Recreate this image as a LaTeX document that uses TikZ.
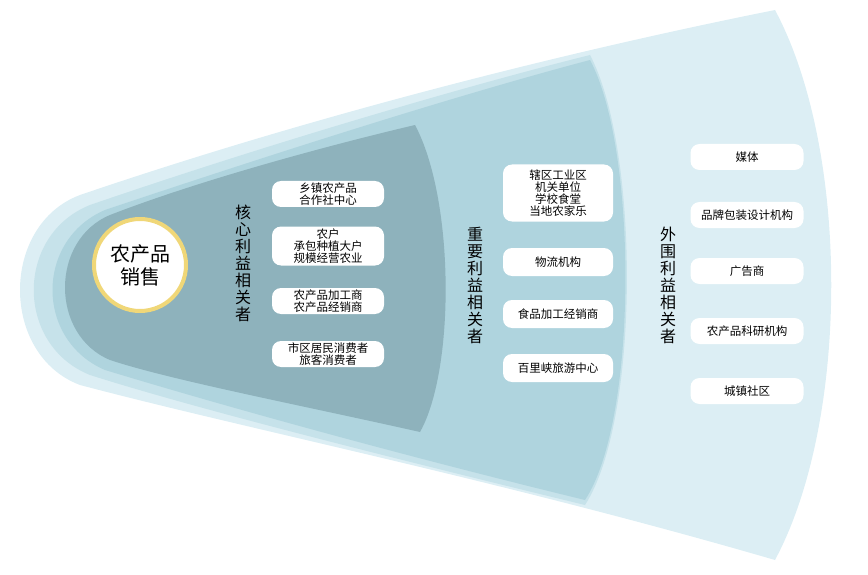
\documentclass[tikz,border=0pt]{standalone}
\usepackage{fontspec}
\setmainfont{Noto Sans CJK SC}
\begin{document}
\begin{tikzpicture}[x=1pt,y=-1pt,
  box/.style={fill=white,rounded corners=9pt,minimum height=26pt,align=center,font=\fontsize{11.5}{12}\selectfont,inner sep=1pt},
  vlab/.style={align=center,font=\fontsize{16}{17}\selectfont}]
\useasboundingbox (0,0) rectangle (868,575);
\definecolor{cout}{HTML}{DCEEF4}
\definecolor{cmid}{HTML}{AFD4DE}
\definecolor{crim}{HTML}{C6E2EA}
\definecolor{cin}{HTML}{8EB2BC}
\fill[cout] (775,10) .. controls (850,150) and (850,420) .. (775,560) .. controls (500,480) and (250,430) .. (80,385) .. controls (0,355) and (0,225) .. (80,195) .. controls (300,120) and (550,55) .. (775,10);
\fill[crim] (590,55) .. controls (640,150) and (640,420) .. (585,505) .. controls (400,460) and (200,410) .. (90,375) .. controls (15,345) and (15,235) .. (90,205) .. controls (250,150) and (450,90) .. (590,55);
\fill[cmid] (590,60) .. controls (638,150) and (638,420) .. (585,500) .. controls (400,455) and (220,405) .. (105,370) .. controls (35,340) and (35,240) .. (105,210) .. controls (260,158) and (450,97) .. (590,60);
\fill[cin] (415,125) .. controls (455,200) and (455,370) .. (420,432) .. controls (300,405) and (170,380) .. (110,360) .. controls (50,335) and (50,240) .. (110,215) .. controls (200,180) and (330,145) .. (415,125);
\node[circle,fill=white,draw={rgb,255:red,240;green,215;blue,120},line width=4pt,minimum size=92pt,font=\fontsize{20}{23}\selectfont,align=center] (c) at (140,265) {农产品\\销售};
\node[vlab] (l1) at (243,263) {核\\心\\利\\益\\相\\关\\者};
\node[vlab] (l2) at (475,285) {重\\要\\利\\益\\相\\关\\者};
\node[vlab] (l3) at (668,285) {外\\围\\利\\益\\相\\关\\者};
\node[box,minimum width=112pt] (a1) at (328,194) {乡镇农产品\\合作社中心};
\node[box,minimum width=112pt,minimum height=39pt] (a2) at (328,246) {农户\\承包种植大户\\规模经营农业};
\node[box,minimum width=112pt] (a3) at (328,301) {农产品加工商\\农产品经销商};
\node[box,minimum width=112pt] (a4) at (328,354) {市区居民消费者\\旅客消费者};
\node[box,minimum width=110pt,minimum height=57pt] (b1) at (558,193) {辖区工业区\\机关单位\\学校食堂\\当地农家乐};
\node[box,minimum width=110pt,minimum height=28pt] (b2) at (558,262) {物流机构};
\node[box,minimum width=110pt,minimum height=28pt] (b3) at (558,314) {食品加工经销商};
\node[box,minimum width=110pt,minimum height=28pt] (b4) at (558,368) {百里峡旅游中心};
\node[box,minimum width=113pt] (d1) at (747,157) {媒体};
\node[box,minimum width=113pt] (d2) at (747,215) {品牌包装设计机构};
\node[box,minimum width=113pt] (d3) at (747,271) {广告商};
\node[box,minimum width=113pt] (d4) at (747,331) {农产品科研机构};
\node[box,minimum width=113pt] (d5) at (747,391) {城镇社区};
\end{tikzpicture}
\end{document}
